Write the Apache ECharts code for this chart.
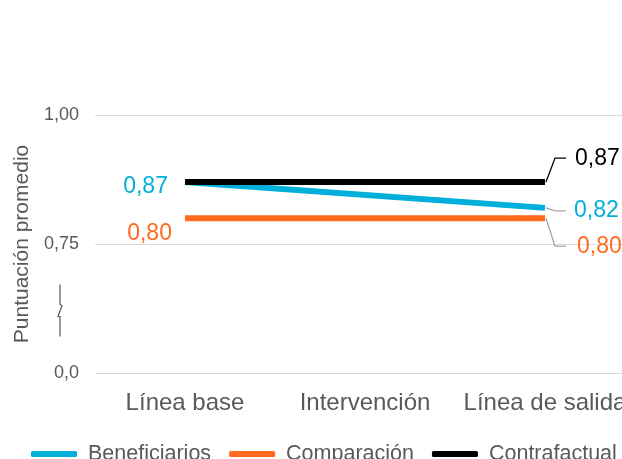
<!DOCTYPE html>
<html>
<head>
<meta charset="utf-8">
<script src="https://cdn.jsdelivr.net/npm/echarts@6/dist/echarts.min.js"></script>
<style>
  html, body { margin: 0; padding: 0; background: #fff; }
  #chart { width: 622px; height: 459px; }
</style>
</head>
<body>
<div id="chart"></div>
<script>
// datos
var categorias = ['Línea base', 'Intervención', 'Línea de salida'];
var beneficiarios = [0.87, null, 0.82];
var comparacion = [0.80, null, 0.80];
var contrafactual = [0.87, null, 0.87];
// eje con corte: 0.5 del eje se muestra como 0,0
var ticksY = { '0.5': '0,0', '0.75': '0,75', '1': '1,00' };

var fuente = 'Liberation Sans';
var gris = '#595959';
var colores = ['#00AFDA', '#FF6A1F', '#000000'];

var myChart = echarts.init(document.getElementById('chart'));

function fmt (v) {
  return v.toFixed(2).replace('.', ',');
}

// etiquetas de cada punto
function etiquetas (datos, izq, der) {
  return datos.map(function (v, i) {
    if (v === null) return null;
    var item = { value: v };
    if (i === 0 && izq) item.label = izq;
    if (i === datos.length - 1 && der) item.label = der;
    return item;
  });
}

function serie (nombre, datos, color, izq, der) {
  return {
    name: nombre,
    type: 'line',
    data: etiquetas(datos, izq, der),
    connectNulls: true,
    symbol: 'circle',
    symbolSize: 0.1,
    showSymbol: true,
    lineStyle: { color: color, width: 6, cap: 'butt' },
    itemStyle: { color: color },
    label: {
      show: false,
      color: color,
      fontFamily: fuente,
      fontSize: 23,
      formatter: function (p) { return fmt(p.value); }
    },
    emphasis: { disabled: true },
    animation: false
  };
}

var option = {
  grid: {
    left: 95,
    right: -13,
    top: 115,
    bottom: 86,
    outerBoundsMode: 'none',
    containLabel: false
  },
  legend: {
    left: 26,
    top: 438,
    icon: 'roundRect',
    itemWidth: 46,
    itemHeight: 6,
    itemGap: 18,
    textStyle: {
      fontFamily: fuente,
      fontSize: 21.5,
      color: gris,
      padding: [0, 0, 0, 6]
    },
    data: ['Beneficiarios', 'Comparación', 'Contrafactual']
  },
  xAxis: {
    type: 'category',
    data: categorias,
    boundaryGap: true,
    axisLine: { show: false },
    axisTick: { show: false },
    axisLabel: {
      interval: 0,
      margin: 18,
      fontFamily: fuente,
      fontSize: 24,
      color: gris
    }
  },
  yAxis: {
    type: 'value',
    min: 0.5,
    max: 1,
    interval: 0.25,
    name: 'Puntuación promedio',
    nameLocation: 'middle',
    nameGap: 60,
    nameTextStyle: {
      fontFamily: fuente,
      fontSize: 21,
      color: gris
    },
    axisLine: { show: false },
    axisTick: { show: false },
    axisLabel: {
      margin: 16,
      fontFamily: fuente,
      fontSize: 18,
      color: gris,
      formatter: function (v) { return ticksY[String(v)] || ''; }
    },
    splitLine: {
      lineStyle: { color: '#D9D9D9', width: 1 }
    }
  },
  series: [
    serie('Beneficiarios', beneficiarios, colores[0],
      { show: true, position: 'left', distance: 17, offset: [0, 5] },
      { show: true, position: 'right', distance: 29, offset: [0, 3] }),
    serie('Comparación', comparacion, colores[1],
      { show: true, position: 'left', distance: 13, offset: [0, 15] },
      { show: true, position: 'right', distance: 32, offset: [0, 28] }),
    serie('Contrafactual', contrafactual, colores[2],
      null,
      { show: true, position: 'right', distance: 30, offset: [0, -23] })
  ]
};

myChart.setOption(option);

// líneas guía de las etiquetas de la derecha y símbolo de corte del eje
var ultimo = categorias.length - 1;
function guia (datos, sIdx, dy, color) {
  var p = myChart.convertToPixel({ seriesIndex: sIdx }, [ultimo, datos[ultimo]]);
  var q = [p[0] + 10, p[1] + dy];
  return {
    type: 'polyline',
    silent: true,
    shape: { points: [[p[0] + 1, p[1]], q, [q[0] + 11, q[1]]] },
    style: { stroke: color, lineWidth: 1.3, fill: null }
  };
}

var y0 = myChart.convertToPixel({ yAxisIndex: 0 }, 0.5);
var y75 = myChart.convertToPixel({ yAxisIndex: 0 }, 0.75);
var yc = (y0 + y75) / 2 + 2;

myChart.setOption({
  graphic: [
    guia(contrafactual, 2, -24, '#000000'),
    guia(beneficiarios, 0, 3, '#A6A6A6'),
    guia(comparacion, 1, 28, '#A6A6A6'),
    {
      type: 'polyline',
      silent: true,
      shape: { points: [[60, yc - 26], [60, yc - 6], [62, yc - 5], [58, yc + 6], [60, yc + 6], [60, yc + 26]] },
      style: { stroke: gris, lineWidth: 1.2, fill: null }
    }
  ]
});
</script>
</body>
</html>
